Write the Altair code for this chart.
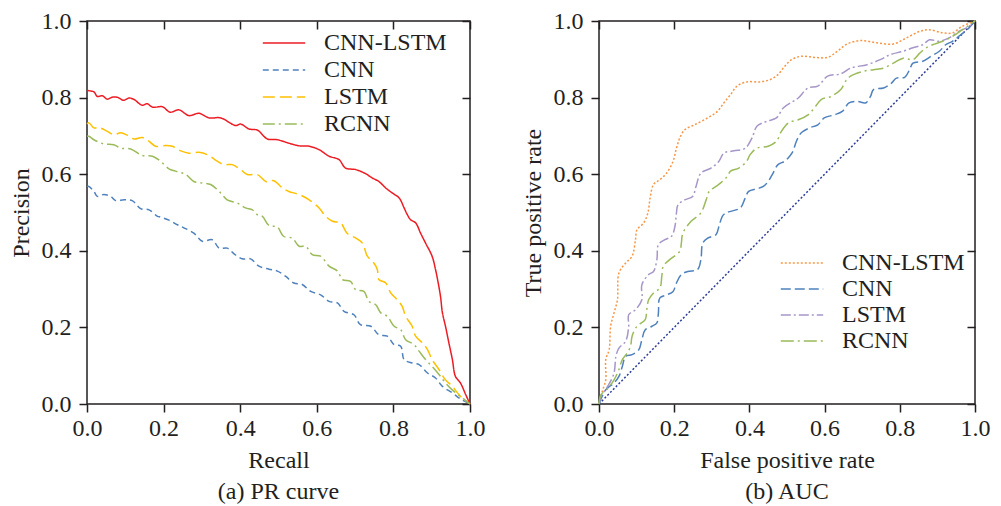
import altair as alt
import pandas as pd

# ---------------- data ----------------
models = ["CNN-LSTM", "CNN", "LSTM", "RCNN"]
tick_vals = [0.0, 0.2, 0.4, 0.6, 0.8, 1.0]

# PR curve: recall / precision
pr_cnnlstm_r = [0, 0.005, 0.018, 0.027, 0.04, 0.053, 0.066, 0.079, 0.095, 0.11, 0.123, 0.144, 0.157, 0.171, 0.197, 0.217, 0.24, 0.266, 0.292, 0.319, 0.349, 0.388, 0.401, 0.423, 0.445, 0.471, 0.497, 0.527, 0.554, 0.58, 0.606, 0.632, 0.658, 0.675, 0.702, 0.728, 0.745, 0.762, 0.78, 0.797, 0.815, 0.828, 0.836, 0.845, 0.858, 0.871, 0.884, 0.901, 0.91, 0.917, 0.923, 0.928, 0.936, 0.945, 0.954, 0.962, 0.975, 0.989, 1.0]
pr_cnnlstm_p = [0.82, 0.818, 0.815, 0.803, 0.805, 0.796, 0.801, 0.801, 0.793, 0.799, 0.795, 0.78, 0.784, 0.775, 0.776, 0.762, 0.768, 0.753, 0.759, 0.747, 0.747, 0.727, 0.731, 0.718, 0.715, 0.692, 0.69, 0.681, 0.674, 0.673, 0.664, 0.647, 0.638, 0.616, 0.612, 0.601, 0.59, 0.581, 0.564, 0.551, 0.538, 0.512, 0.495, 0.481, 0.473, 0.446, 0.42, 0.386, 0.351, 0.316, 0.281, 0.238, 0.203, 0.159, 0.116, 0.072, 0.055, 0.024, 0.0]

pr_cnn_r = [0, 0.005, 0.018, 0.027, 0.044, 0.062, 0.075, 0.097, 0.118, 0.14, 0.162, 0.184, 0.192, 0.214, 0.236, 0.253, 0.279, 0.301, 0.327, 0.345, 0.366, 0.384, 0.405, 0.427, 0.449, 0.475, 0.497, 0.519, 0.54, 0.562, 0.584, 0.61, 0.632, 0.654, 0.671, 0.697, 0.714, 0.741, 0.762, 0.784, 0.802, 0.819, 0.828, 0.849, 0.867, 0.889, 0.91, 0.928, 0.954, 0.975, 1.0]
pr_cnn_p = [0.568, 0.568, 0.555, 0.542, 0.547, 0.542, 0.531, 0.533, 0.531, 0.51, 0.507, 0.49, 0.488, 0.48, 0.468, 0.46, 0.446, 0.425, 0.429, 0.407, 0.407, 0.392, 0.379, 0.379, 0.36, 0.352, 0.347, 0.333, 0.316, 0.312, 0.294, 0.285, 0.268, 0.264, 0.242, 0.233, 0.207, 0.203, 0.181, 0.177, 0.155, 0.151, 0.116, 0.107, 0.103, 0.081, 0.068, 0.046, 0.029, 0.013, 0.0]

pr_lstm_r = [0, 0.005, 0.018, 0.031, 0.053, 0.07, 0.088, 0.105, 0.123, 0.144, 0.162, 0.179, 0.205, 0.223, 0.245, 0.266, 0.292, 0.314, 0.34, 0.358, 0.379, 0.401, 0.419, 0.445, 0.467, 0.488, 0.51, 0.527, 0.554, 0.58, 0.606, 0.623, 0.641, 0.662, 0.679, 0.702, 0.719, 0.732, 0.749, 0.758, 0.762, 0.78, 0.793, 0.81, 0.823, 0.832, 0.849, 0.858, 0.876, 0.889, 0.901, 0.919, 0.936, 0.954, 0.975, 1.0]
pr_lstm_p = [0.731, 0.734, 0.721, 0.722, 0.712, 0.703, 0.708, 0.702, 0.692, 0.696, 0.686, 0.673, 0.675, 0.673, 0.661, 0.655, 0.657, 0.651, 0.634, 0.625, 0.625, 0.612, 0.599, 0.599, 0.581, 0.583, 0.564, 0.555, 0.547, 0.533, 0.512, 0.49, 0.477, 0.473, 0.446, 0.433, 0.42, 0.386, 0.368, 0.351, 0.325, 0.316, 0.29, 0.272, 0.255, 0.229, 0.203, 0.177, 0.159, 0.142, 0.116, 0.09, 0.063, 0.046, 0.02, 0.0]

pr_rcnn_r = [0, 0.005, 0.018, 0.044, 0.07, 0.088, 0.114, 0.144, 0.171, 0.192, 0.214, 0.231, 0.258, 0.279, 0.301, 0.323, 0.349, 0.366, 0.392, 0.414, 0.432, 0.445, 0.458, 0.475, 0.497, 0.513, 0.536, 0.554, 0.571, 0.588, 0.61, 0.632, 0.654, 0.667, 0.688, 0.702, 0.723, 0.736, 0.754, 0.767, 0.784, 0.802, 0.819, 0.832, 0.854, 0.867, 0.884, 0.901, 0.919, 0.936, 0.958, 0.98, 1.0]
pr_rcnn_p = [0.699, 0.699, 0.69, 0.679, 0.677, 0.668, 0.666, 0.649, 0.647, 0.634, 0.614, 0.608, 0.599, 0.581, 0.577, 0.573, 0.551, 0.533, 0.525, 0.512, 0.507, 0.494, 0.49, 0.466, 0.462, 0.438, 0.433, 0.412, 0.412, 0.39, 0.386, 0.36, 0.347, 0.325, 0.32, 0.298, 0.294, 0.268, 0.259, 0.238, 0.229, 0.203, 0.194, 0.168, 0.155, 0.138, 0.116, 0.098, 0.077, 0.055, 0.033, 0.016, 0.0]

# ROC curve: false positive rate / true positive rate
roc_cnnlstm_f = [0, 0.001, 0.01, 0.018, 0.018, 0.027, 0.031, 0.04, 0.049, 0.053, 0.071, 0.088, 0.097, 0.101, 0.119, 0.13, 0.136, 0.145, 0.162, 0.18, 0.197, 0.206, 0.215, 0.228, 0.254, 0.289, 0.315, 0.332, 0.35, 0.367, 0.393, 0.428, 0.455, 0.476, 0.494, 0.512, 0.538, 0.573, 0.608, 0.634, 0.66, 0.696, 0.739, 0.783, 0.818, 0.853, 0.879, 0.914, 0.94, 0.966, 1.0]
roc_cnnlstm_t = [0, 0.007, 0.037, 0.063, 0.116, 0.142, 0.203, 0.238, 0.272, 0.342, 0.368, 0.386, 0.429, 0.455, 0.473, 0.499, 0.538, 0.573, 0.586, 0.603, 0.634, 0.668, 0.695, 0.716, 0.729, 0.747, 0.764, 0.786, 0.808, 0.83, 0.841, 0.841, 0.847, 0.86, 0.882, 0.899, 0.908, 0.905, 0.905, 0.921, 0.94, 0.949, 0.943, 0.94, 0.956, 0.973, 0.977, 0.969, 0.969, 0.986, 1.0]

roc_cnn_f = [0, 0.018, 0.04, 0.053, 0.062, 0.071, 0.088, 0.106, 0.114, 0.123, 0.141, 0.154, 0.158, 0.162, 0.18, 0.197, 0.206, 0.219, 0.236, 0.262, 0.271, 0.276, 0.289, 0.311, 0.319, 0.328, 0.337, 0.35, 0.376, 0.389, 0.398, 0.42, 0.437, 0.45, 0.463, 0.476, 0.494, 0.507, 0.516, 0.525, 0.538, 0.56, 0.582, 0.599, 0.626, 0.647, 0.665, 0.687, 0.709, 0.722, 0.73, 0.757, 0.778, 0.791, 0.813, 0.826, 0.835, 0.861, 0.883, 0.905, 0.922, 0.94, 0.962, 0.984, 1.0]
roc_cnn_t = [0, 0.037, 0.055, 0.072, 0.098, 0.125, 0.129, 0.142, 0.168, 0.194, 0.203, 0.212, 0.238, 0.277, 0.285, 0.294, 0.316, 0.338, 0.346, 0.351, 0.377, 0.42, 0.433, 0.442, 0.464, 0.49, 0.499, 0.503, 0.512, 0.538, 0.555, 0.562, 0.568, 0.581, 0.603, 0.625, 0.634, 0.647, 0.66, 0.686, 0.708, 0.721, 0.729, 0.747, 0.755, 0.764, 0.786, 0.79, 0.786, 0.803, 0.821, 0.825, 0.838, 0.851, 0.853, 0.873, 0.89, 0.895, 0.908, 0.921, 0.938, 0.947, 0.964, 0.982, 1.0]

roc_lstm_f = [0, 0.005, 0.023, 0.04, 0.045, 0.053, 0.071, 0.079, 0.079, 0.097, 0.114, 0.114, 0.132, 0.145, 0.154, 0.158, 0.175, 0.193, 0.202, 0.206, 0.21, 0.228, 0.249, 0.258, 0.271, 0.298, 0.319, 0.332, 0.359, 0.389, 0.407, 0.42, 0.446, 0.472, 0.49, 0.516, 0.53, 0.556, 0.582, 0.608, 0.643, 0.669, 0.713, 0.748, 0.774, 0.809, 0.835, 0.861, 0.879, 0.905, 0.931, 0.957, 0.984, 1.0]
roc_lstm_t = [0, 0.02, 0.046, 0.081, 0.125, 0.146, 0.164, 0.203, 0.233, 0.246, 0.272, 0.311, 0.338, 0.346, 0.377, 0.416, 0.429, 0.438, 0.464, 0.499, 0.52, 0.533, 0.542, 0.568, 0.603, 0.616, 0.634, 0.655, 0.661, 0.668, 0.695, 0.725, 0.738, 0.747, 0.773, 0.79, 0.799, 0.825, 0.83, 0.856, 0.862, 0.877, 0.886, 0.899, 0.912, 0.921, 0.93, 0.938, 0.951, 0.947, 0.956, 0.973, 0.986, 1.0]

roc_rcnn_f = [0, 0.005, 0.023, 0.04, 0.053, 0.062, 0.075, 0.084, 0.088, 0.101, 0.123, 0.127, 0.132, 0.145, 0.162, 0.167, 0.171, 0.188, 0.215, 0.219, 0.223, 0.245, 0.271, 0.285, 0.293, 0.311, 0.328, 0.341, 0.35, 0.372, 0.393, 0.402, 0.42, 0.45, 0.472, 0.485, 0.505, 0.53, 0.556, 0.573, 0.591, 0.617, 0.643, 0.656, 0.669, 0.704, 0.73, 0.757, 0.783, 0.809, 0.835, 0.853, 0.87, 0.887, 0.914, 0.94, 0.966, 1.0]
roc_rcnn_t = [0, 0.024, 0.04, 0.063, 0.09, 0.116, 0.133, 0.151, 0.177, 0.203, 0.22, 0.246, 0.272, 0.29, 0.303, 0.333, 0.36, 0.377, 0.399, 0.42, 0.446, 0.477, 0.499, 0.533, 0.555, 0.568, 0.581, 0.594, 0.608, 0.616, 0.634, 0.651, 0.668, 0.673, 0.686, 0.712, 0.735, 0.742, 0.755, 0.773, 0.795, 0.803, 0.821, 0.843, 0.856, 0.869, 0.873, 0.877, 0.89, 0.903, 0.899, 0.916, 0.93, 0.938, 0.947, 0.96, 0.977, 1.0]

diag_x = [0.0, 1.0]
diag_y = [0.0, 1.0]

# ---------------- tables ----------------
def build(series, field):
    rows = []
    for name, xs, ys in series:
        for i, (a, b) in enumerate(zip(xs, ys)):
            rows.append({"x": a, "y": b, field: name, "idx": i})
    return pd.DataFrame(rows)

pr_df = build([("CNN-LSTM", pr_cnnlstm_r, pr_cnnlstm_p), ("CNN", pr_cnn_r, pr_cnn_p),
               ("LSTM", pr_lstm_r, pr_lstm_p), ("RCNN", pr_rcnn_r, pr_rcnn_p)], "pr_model")
roc_df = build([("CNN-LSTM", roc_cnnlstm_f, roc_cnnlstm_t), ("CNN", roc_cnn_f, roc_cnn_t),
                ("LSTM", roc_lstm_f, roc_lstm_t), ("RCNN", roc_rcnn_f, roc_rcnn_t)], "roc_model")
diag_df = pd.DataFrame({"x": diag_x, "y": diag_y})

INK = "#231f20"
FONT = "Liberation Serif"

unit = alt.Scale(domain=[0, 1], nice=False, zero=False)


def xaxis(title):
    return alt.Axis(values=tick_vals, format=".1f", title=title, labelFlush=False, labelPadding=4)


def yaxis(title):
    return alt.Axis(values=tick_vals, format=".1f", title=title, labelFlush=False, labelPadding=8)


def legend(x, y, row_h, row_pad):
    return alt.Legend(title=None, orient="none", legendX=x, legendY=y, symbolType="stroke",
                      symbolSize=1800, symbolStrokeWidth=1.5, labelFont=FONT, labelFontSize=24,
                      labelColor=INK, labelOffset=18, rowPadding=row_pad, clipHeight=row_h,
                      labelLimit=300)


def mirror(df):
    return alt.Chart(df).mark_point(opacity=0).encode(
        x=alt.X("x:Q", scale=unit, axis=alt.Axis(orient="top", values=tick_vals, labels=False,
                                                 title=None, offset=-8, tickSize=8, domain=False)),
        y=alt.Y("y:Q", scale=unit, axis=alt.Axis(orient="right", values=tick_vals, labels=False,
                                                 title=None, offset=-8, tickSize=8, domain=False)),
    )


pr_leg = legend(175, 10, 24, 3)
pr_lines = alt.Chart(pr_df).mark_line(strokeWidth=1.5, interpolate="catmull-rom").encode(
    x=alt.X("x:Q", scale=unit, axis=xaxis("Recall")),
    y=alt.Y("y:Q", scale=unit, axis=yaxis("Precision")),
    color=alt.Color("pr_model:N", scale=alt.Scale(domain=models,
                    range=["#ed1c24", "#4f81bd", "#ffc000", "#9bbb59"]), legend=pr_leg),
    strokeDash=alt.StrokeDash("pr_model:N", scale=alt.Scale(domain=models,
                    range=[[1, 0], [6, 4], [12, 5], [12, 4, 2, 4]]), legend=pr_leg),
    order="idx:Q",
)

left = alt.layer(pr_lines, mirror(pr_df)).resolve_axis(x="independent", y="independent").properties(
    width=383, height=383,
    title=alt.TitleParams("(a) PR curve", orient="bottom", font=FONT, fontSize=24,
                          fontWeight="normal", color=INK, offset=8, frame="group", anchor="middle"),
)

diag = alt.Chart(diag_df).mark_line(strokeWidth=1.5, color="#2e3d98", strokeDash=[2, 2]).encode(
    x=alt.X("x:Q", scale=unit, axis=xaxis("False positive rate")),
    y=alt.Y("y:Q", scale=unit, axis=yaxis("True positive rate")),
)

roc_leg = legend(181, 230, 24, 2)
roc_lines = alt.Chart(roc_df).mark_line(strokeWidth=1.5, interpolate="catmull-rom").encode(
    x=alt.X("x:Q", scale=unit, axis=None),
    y=alt.Y("y:Q", scale=unit, axis=None),
    color=alt.Color("roc_model:N", scale=alt.Scale(domain=models,
                    range=["#f79646", "#4f81bd", "#a796c9", "#9bbb59"]), legend=roc_leg),
    strokeDash=alt.StrokeDash("roc_model:N", scale=alt.Scale(domain=models,
                    range=[[2, 2], [10, 4], [10, 3, 2, 3], [13, 4, 2, 4]]), legend=roc_leg),
    order="idx:Q",
)

right = alt.layer(diag, roc_lines, mirror(roc_df)).resolve_axis(x="independent", y="independent").properties(
    width=376, height=383,
    title=alt.TitleParams("(b) AUC", orient="bottom", font=FONT, fontSize=24,
                          fontWeight="normal", color=INK, offset=8, frame="group", anchor="middle"),
)

chart = alt.hconcat(left, right, spacing=34).resolve_scale(
    color="independent", strokeDash="independent").resolve_legend(
    color="independent", strokeDash="independent").properties(
    padding={"left": 0, "top": 0, "right": 0, "bottom": 0}, background="white"
).configure_view(stroke=INK, strokeWidth=1.5).configure_axis(
    grid=False, domain=False, tickColor=INK, tickWidth=1.5, tickSize=8,
    labelFont=FONT, labelFontSize=24, labelColor=INK,
    titleFont=FONT, titleFontSize=24, titleFontWeight="normal", titleColor=INK, titlePadding=8,
)

chart.save("out.html", embed_options={"renderer": "svg", "actions": False})
